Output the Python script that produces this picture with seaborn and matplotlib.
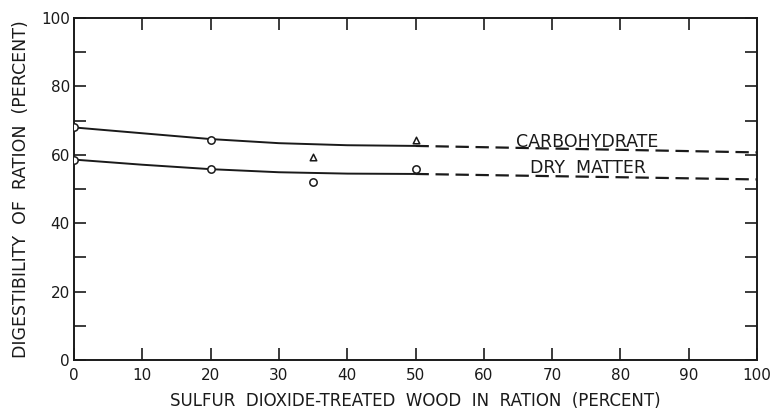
import matplotlib
matplotlib.use("Agg")
import matplotlib.pyplot as plt
import seaborn as sns
import pandas as pd

sns.set_theme(style="ticks")
plt.rcParams["font.family"] = ["DejaVu Sans"]

# Fitted curves over the measured range (percent treated wood in ration)
fit_x = [0, 10, 20, 30, 40, 50]
carb_fit = [68.0, 66.3, 64.6, 63.4, 62.8, 62.6]
dry_fit = [58.6, 57.1, 55.8, 54.9, 54.5, 54.4]

# Extrapolated trends beyond the measured range
ext_x = [50, 100]
carb_ext = [62.6, 60.7]
dry_ext = [54.4, 52.8]

# Observed digestibility values
carb_circ_x = [0, 20]
carb_circ_y = [68.0, 64.4]
carb_tri_x = [35, 50]
carb_tri_y = [59.4, 64.3]
dry_circ_x = [0, 20, 35, 50]
dry_circ_y = [58.6, 55.8, 52.0, 55.8]

fig = plt.figure(figsize=(7.72, 4.12), dpi=100)
ax = fig.add_axes([0.0959, 0.1262, 0.8847, 0.8301])

ink = "#1a1a1a"
fit_df = pd.DataFrame({"x": fit_x, "carb": carb_fit, "dry": dry_fit})
ext_df = pd.DataFrame({"x": ext_x, "carb": carb_ext, "dry": dry_ext})

for col in ["carb", "dry"]:
    sns.lineplot(data=fit_df, x="x", y=col, ax=ax, color=ink, lw=1.4)
    sns.lineplot(data=ext_df, x="x", y=col, ax=ax, color=ink, lw=1.6,
                 dashes=False, linestyle=(0, (6, 3)))

sns.scatterplot(x=carb_circ_x, y=carb_circ_y, ax=ax, marker="o", s=28,
                facecolor="white", edgecolor=ink, linewidth=1.1, zorder=5)
sns.scatterplot(x=carb_tri_x, y=carb_tri_y, ax=ax, marker="^", s=22,
                facecolor="white", edgecolor=ink, linewidth=1.1, zorder=5)
sns.scatterplot(x=dry_circ_x, y=dry_circ_y, ax=ax, marker="o", s=28,
                facecolor="white", edgecolor=ink, linewidth=1.1, zorder=5)

ax.text(75.2, 63.6, "CARBOHYDRATE", ha="center", va="center", fontsize=12.5, color=ink)
ax.text(75.2, 56.0, "DRY  MATTER", ha="center", va="center", fontsize=12.5, color=ink)

ax.set_xlim(0, 100)
ax.set_ylim(0, 100)
ax.set_xticks(range(0, 101, 10))
ax.set_yticks(range(0, 101, 10))
ax.set_yticklabels([str(v) if v % 20 == 0 else "" for v in range(0, 101, 10)])
ax.tick_params(direction="in", length=8.5, width=1.2, color=ink, labelsize=11,
               labelcolor=ink, top=True, right=True, pad=3)
ax.tick_params(axis="x", pad=6)
for side in ax.spines.values():
    side.set_linewidth(1.4)
    side.set_color(ink)

ax.set_xlabel("SULFUR  DIOXIDE-TREATED  WOOD  IN  RATION  (PERCENT)", fontsize=12,
              color=ink, labelpad=6)
ax.set_ylabel("DIGESTIBILITY  OF  RATION  (PERCENT)", fontsize=12.5, color=ink, labelpad=8)

fig.savefig("out.png", dpi=100)
